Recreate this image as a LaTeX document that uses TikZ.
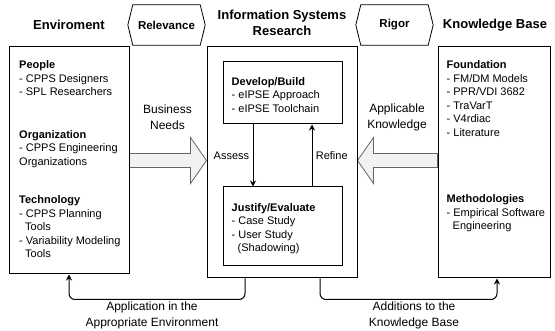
\documentclass[tikz,border=0pt]{standalone}
\usepackage{fontspec}
\setmainfont{Liberation Sans}
\usetikzlibrary{arrows.meta, calc, backgrounds}

\tikzset{
    box/.style={draw, line width=1pt, minimum width=#1},
    txt/.style={anchor=north west, align=left, inner sep=0pt, font=\fontsize{11}{13.5}\selectfont},
    title/.style={align=center, font=\fontsize{13}{16}\selectfont\bfseries},
    hexa/.style={minimum width=77, minimum height=40, inner sep=0pt, font=\fontsize{11.5}{14}\selectfont\bfseries},
    lbl/.style={align=center, font=\fontsize{12}{16}\selectfont},
    flow/.style={line width=1pt, -{Stealth[length=6pt, width=6pt]}},
    bigarrow/.style={draw=black!60, fill=black!5, line width=0.8pt, line join=miter}
}

\begin{document}
\begin{tikzpicture}[x=1pt, y=-1pt]
    \useasboundingbox (0,0) rectangle (555,331);

    \node (env) [box=120, minimum height=227] at (69,160.5) {};
    \node (isr) [box=150, minimum height=231] at (282,162.5) {};
    \node (kb) [box=112, minimum height=231] at (494,162.5) {};
    \node (dev) [box=119, minimum height=62] at (282.5,93) {};
    \node (jus) [box=119, minimum height=79] at (282.5,226.5) {};

    \node (tenv) [title] at (69,25) {Enviroment};
    \node (tisr) [title] at (282,23) {Information Systems\\Research};
    \node (tkb) [title] at (495,25) {Knowledge Base};

    \node (rel) [hexa] at (166.5,25) {Relevance};
    \node (rig) [hexa] at (394.5,25) {Rigor};
    \foreach \h in {rel,rig}
    \draw[line width=0.8pt] (\h.west) -- ([xshift=5]\h.north west) -- ([xshift=-5]\h.north east) -- (\h.east) -- ([xshift=-5]\h.south east) -- ([xshift=5]\h.south west) -- cycle;

    \node (people) [txt] at ($(env.north west)+(10.5,14)$) {\textbf{People}\\- CPPS Designers\\- SPL Researchers};
    \node (orga) [txt] at ($(env.north west)+(10.5,83.5)$) {\textbf{Organization}\\- CPPS Engineering\\Organizations};
    \node (tech) [txt] at ($(env.north west)+(10.5,149)$) {\textbf{Technology}\\- CPPS Planning\\\hspace*{6pt}Tools\\- Variability Modeling\\\hspace*{6pt}Tools};

    \node (build) [txt] at ($(dev.north west)+(9,15.5)$) {\textbf{Develop/Build}\\- eIPSE Approach\\- eIPSE Toolchain};
    \node (eval) [txt] at ($(jus.north west)+(9,16.5)$) {\textbf{Justify/Evaluate}\\- Case Study\\- User Study\\\hspace*{6pt}(Shadowing)};

    \node (found) [txt] at ($(kb.north west)+(9,14)$) {\textbf{Foundation}\\- FM/DM Models\\- PPR/VDI 3682\\- TraVarT\\- V4rdiac\\- Literature};
    \node (meth) [txt] at ($(kb.north west)+(9,148)$) {\textbf{Methodologies}\\- Empirical Software\\\hspace*{6pt}Engineering};

    \node (needs) [lbl] at (167.5,117) {Business\\Needs};
    \node (know) [lbl] at (397,117) {Applicable\\Knowledge};

    \begin{scope}[on background layer]
    \foreach \a/\b/\s in {env.east/isr.west/1, kb.west/isr.east/-1} {
        \coordinate (tip) at (\b |- env.east);
        \draw[bigarrow] ($(\a |- env.east)+(0,-7)$) -- ($(tip)+(-16*\s,-7)$) -- ($(tip)+(-16*\s,-23)$) -- (tip)
            -- ($(tip)+(-16*\s,23)$) -- ($(tip)+(-16*\s,7)$) -- ($(\a |- env.east)+(0,7)$) -- cycle;
    }
    \end{scope}

    \draw[flow] ([xshift=-29.5]dev.south) -- node[left, font=\fontsize{11}{13}\selectfont]{Assess} ([xshift=-29.5]jus.north);
    \draw[flow] ([xshift=29.5]jus.north) -- node[right, font=\fontsize{11}{13}\selectfont]{Refine} ([xshift=29.5]dev.south);

    \draw[flow, rounded corners=6] ([xshift=-37]isr.south) -- ++(0,21) -| (env.south);
    \draw[flow, rounded corners=6] ([xshift=38]isr.south) -- ++(0,21) -| ([xshift=3]kb.south);
    \node (appl) [lbl] at (152,315) {Application in the\\Appropriate Environment};
    \node (addk) [lbl] at (414,315) {Additions to the\\Knowledge Base};

\end{tikzpicture}
\end{document}
